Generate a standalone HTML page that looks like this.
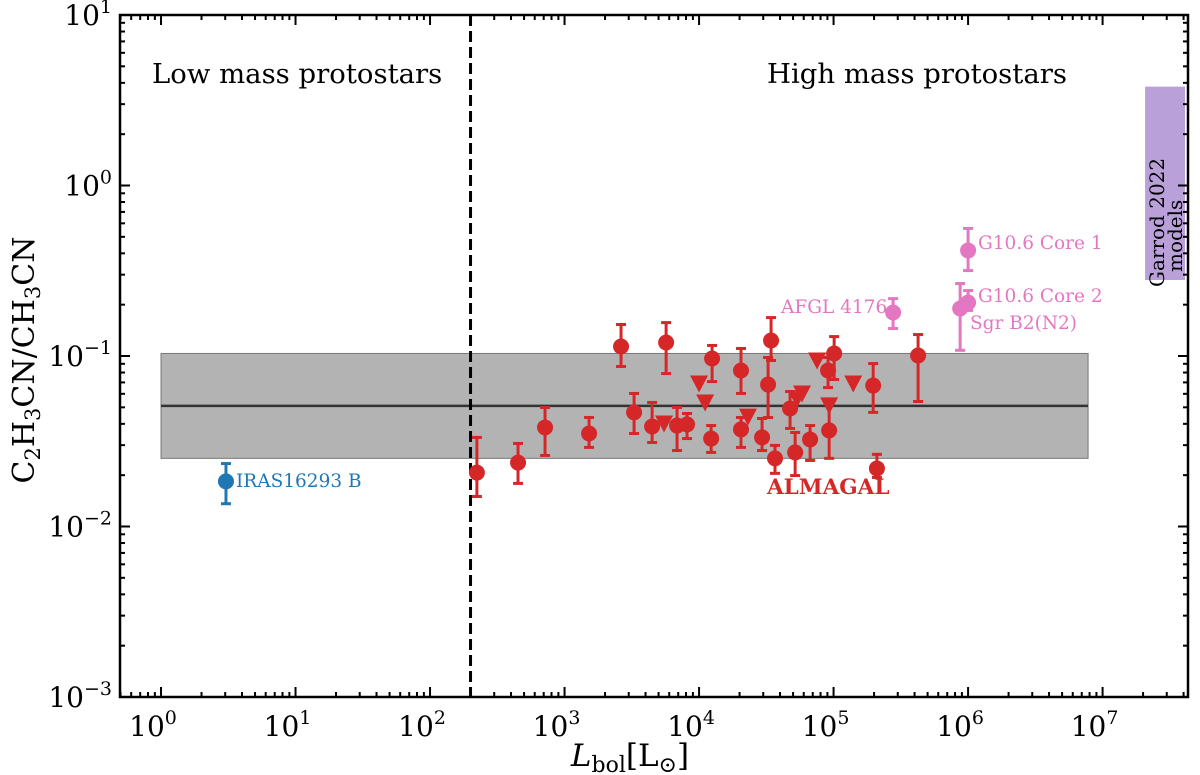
<!DOCTYPE html>
<html><head><meta charset="utf-8">
<style>
html,body{margin:0;padding:0;background:#fff;}
svg{display:block;font-family:"DejaVu Serif","Liberation Serif",serif;}
</style></head>
<body>
<svg id="chart" width="1200" height="775" viewBox="0 0 1200 775">
<g id="bg"></g><g id="marks"></g><g id="axes"></g>
</svg>
<script>
// ALMAGAL detections
const almX = [223,451,716,1521,2630,3288,4477,5690,6860,8140,12500,12300,20500,20500,29400,34300,32600,36700,47500,51800,66900,91000,101000,92700,197000,210000,425000];
const almY = [0.0207,0.0237,0.0381,0.0351,0.1137,0.0467,0.0386,0.120,0.0391,0.0397,0.0967,0.0328,0.0822,0.0371,0.0333,0.1233,0.068,0.0251,0.0492,0.0272,0.0324,0.0822,0.1035,0.0366,0.0671,0.0219,0.1007];
const almHi = [0.0333,0.0307,0.0499,0.0436,0.153,0.0603,0.0534,0.157,0.0499,0.046,0.1153,0.0391,0.1107,0.0436,0.043,0.168,0.098,0.0299,0.0619,0.0356,0.0391,0.098,0.130,0.0548,0.0903,0.0265,0.1336];
const almLo = [0.0150,0.0179,0.0261,0.0291,0.0868,0.0351,0.0311,0.0789,0.0279,0.0328,0.0708,0.0272,0.0603,0.0291,0.0279,0.0941,0.0436,0.0205,0.0376,0.0199,0.0244,0.0653,0.0728,0.0251,0.0467,0.0194,0.0541];
// ALMAGAL upper limits
const limX = [5490,10000,11100,23100,53500,58300,75400,92700,140000];
const limY = [0.0402,0.069,0.0534,0.0441,0.0562,0.0603,0.0941,0.0513,0.069];
// literature sources
const litNames = ["AFGL 4176","G10.6 Core 1","G10.6 Core 2","Sgr B2(N2)"];
const litX = [277000,1000000,1000000,873000];
const litY = [0.18,0.416,0.206,0.19];
const litHi = [0.217,0.56,0.242,0.266];
const litLo = [0.145,0.317,0.185,0.108];
const lowX = [3.04], lowY = [0.0184], lowHi = [0.0234], lowLo = [0.0136];
const bandLo = 0.0251, bandMid = 0.051, bandHi = 0.1035, bandXmin = 1, bandXmax = 7.8e6;
const garrod = [2.07e7, 4.1e7, 0.279, 3.8];
const divideX = 200;
const xTicks = [0,1,2,3,4,5,6,7];
const yTicks = [-3,-2,-1,0,1];

const L=120,R=1188,T=15,B=697;
const XMIN=-0.305, XMAX=7.635, YMIN=-3, YMAX=1;
const sx=v=>L+(Math.log10(v)-XMIN)/(XMAX-XMIN)*(R-L);
const sy=v=>B-(Math.log10(v)-YMIN)/(YMAX-YMIN)*(B-T);
const NS="http://www.w3.org/2000/svg";
function mk(tag,attrs,parent,text){const e=document.createElementNS(NS,tag);for(const k in attrs)e.setAttribute(k,attrs[k]);if(text!==undefined)e.textContent=text;parent.appendChild(e);return e;}
const bg=document.getElementById('bg'),mg=document.getElementById('marks'),ag=document.getElementById('axes');

let e;
e=mk('rect',{x:sx(bandXmin),y:sy(bandHi),width:sx(bandXmax)-sx(bandXmin),height:sy(bandLo)-sy(bandHi),fill:'#b3b3b3',stroke:'#777','stroke-width':1},bg);


e=mk('line',{x1:sx(bandXmin),x2:sx(bandXmax),y1:sy(bandMid),y2:sy(bandMid),stroke:'#333','stroke-width':2.5},bg);


e=mk('rect',{x:sx(garrod[0]),y:sy(garrod[3]),width:sx(garrod[1])-sx(garrod[0]),height:sy(garrod[2])-sy(garrod[3]),fill:'#b9a0d9'},bg);


e=mk('line',{x1:sx(divideX),x2:sx(divideX),y1:T,y2:B,stroke:'#000','stroke-width':3,'stroke-dasharray':'11,5'},bg);



function errPt(x,y,hi,lo,col,name){
  const g=mk('g',{},mg);
  
  
  const X=sx(x);
  mk('line',{x1:X,x2:X,y1:sy(hi),y2:sy(lo),stroke:col,'stroke-width':3},g);
  mk('line',{x1:X-5,x2:X+5,y1:sy(hi),y2:sy(hi),stroke:col,'stroke-width':3},g);
  mk('line',{x1:X-5,x2:X+5,y1:sy(lo),y2:sy(lo),stroke:col,'stroke-width':3},g);
  mk('circle',{cx:X,cy:sy(y),r:8,fill:col},g);
}
const red='#d62728',pink='#e377c2',blue='#1f77b4';
for(let i=0;i<almX.length;i++) errPt(almX[i],almY[i],almHi[i],almLo[i],red,'almagal-point');
for(let i=0;i<limX.length;i++){
  const X=sx(limX[i]),Y=sy(limY[i]);
  e=mk('path',{d:`M${X-9},${Y-8}L${X+9},${Y-8}L${X},${Y+9}Z`,fill:red},mg);
  
  
}
for(let i=0;i<litX.length;i++) errPt(litX[i],litY[i],litHi[i],litLo[i],pink,'literature-point');
errPt(lowX[0],lowY[0],lowHi[0],lowLo[0],blue,'iras16293b-point');

function lab(x,y,t,col,size,name,extra){
  const e=mk('text',Object.assign({x:x,y:y,fill:col,'font-size':size},extra||{}),mg,t);
  
  
  return e;
}
lab(236,487,'IRAS16293 B',blue,18.5,'iras16293b-label');
lab(781,313,'AFGL 4176',pink,18.5,'afgl4176-label');
lab(978,249,'G10.6 Core 1',pink,18.5,'g106-core1-label');
lab(978,302,'G10.6 Core 2',pink,18.5,'g106-core2-label');
lab(970,329,'Sgr B2(N2)',pink,18.5,'sgrb2-label');
lab(767,494,'ALMAGAL',red,21.5,'almagal-label',{'font-weight':'bold'});
lab(152,83,'Low mass protostars','#000',27.5,'low-mass-label');
lab(767,83,'High mass protostars','#000',27.5,'high-mass-label');
lab(0,0,'Garrod 2022','#000',20,'garrod-label',{transform:'translate(1164,287) rotate(-90)'});
lab(0,0,'models','#000',20,'garrod-label-models',{transform:'translate(1182,272) rotate(-90)'});

// axes frame
e=mk('rect',{x:L,y:T,width:R-L,height:B-T,fill:'none',stroke:'#000','stroke-width':2.5},ag);


for(let d=-1;d<=8;d++){
  for(let m=1;m<10;m++){
    const v=Math.log10(m)+d; if(v<XMIN||v>XMAX) continue;
    const X=L+(v-XMIN)/(XMAX-XMIN)*(R-L), len=m===1?10:5;
    mk('line',{x1:X,x2:X,y1:B,y2:B-len,stroke:'#000','stroke-width':2},ag);
    mk('line',{x1:X,x2:X,y1:T,y2:T+len,stroke:'#000','stroke-width':2},ag);
  }
}
for(let d=-3;d<=1;d++){
  for(let m=1;m<10;m++){
    const v=Math.log10(m)+d; if(v<YMIN||v>YMAX) continue;
    const Y=B-(v-YMIN)/(YMAX-YMIN)*(B-T), len=m===1?10:5;
    mk('line',{x1:L,x2:L+len,y1:Y,y2:Y,stroke:'#000','stroke-width':2},ag);
    mk('line',{x1:R,x2:R-len,y1:Y,y2:Y,stroke:'#000','stroke-width':2},ag);
  }
}
xTicks.forEach(p=>{
  const t=mk('text',{x:sx(Math.pow(10,p))-8,y:736,'text-anchor':'middle','font-size':28},ag);
  
  
  t.appendChild(document.createTextNode('10'));
  mk('tspan',{dy:-12,'font-size':19},t,String(p));
});
yTicks.forEach(p=>{
  const t=mk('text',{x:112,y:sy(Math.pow(10,p))+10,'text-anchor':'end','font-size':28},ag);
  
  
  t.appendChild(document.createTextNode('10'));
  mk('tspan',{dy:-12,'font-size':19},t,p<0?'\u2212'+(-p):String(p));
});
// axis titles
let xt=mk('text',{x:630,y:766,'text-anchor':'middle','font-size':31},ag);


mk('tspan',{'font-style':'italic'},xt,'L');
mk('tspan',{dy:6,'font-size':22},xt,'bol');
mk('tspan',{dy:-6},xt,'[L');
mk('tspan',{dy:6,'font-size':22},xt,'\u2299');
mk('tspan',{dy:-6},xt,']');
let yt=mk('text',{transform:'translate(34,360) rotate(-90)','text-anchor':'middle','font-size':30},ag);


yt.appendChild(document.createTextNode('C'));
mk('tspan',{dy:6,'font-size':21},yt,'2');
mk('tspan',{dy:-6},yt,'H');
mk('tspan',{dy:6,'font-size':21},yt,'3');
mk('tspan',{dy:-6},yt,'CN/CH');
mk('tspan',{dy:6,'font-size':21},yt,'3');
mk('tspan',{dy:-6},yt,'CN');
</script>
</body></html>
